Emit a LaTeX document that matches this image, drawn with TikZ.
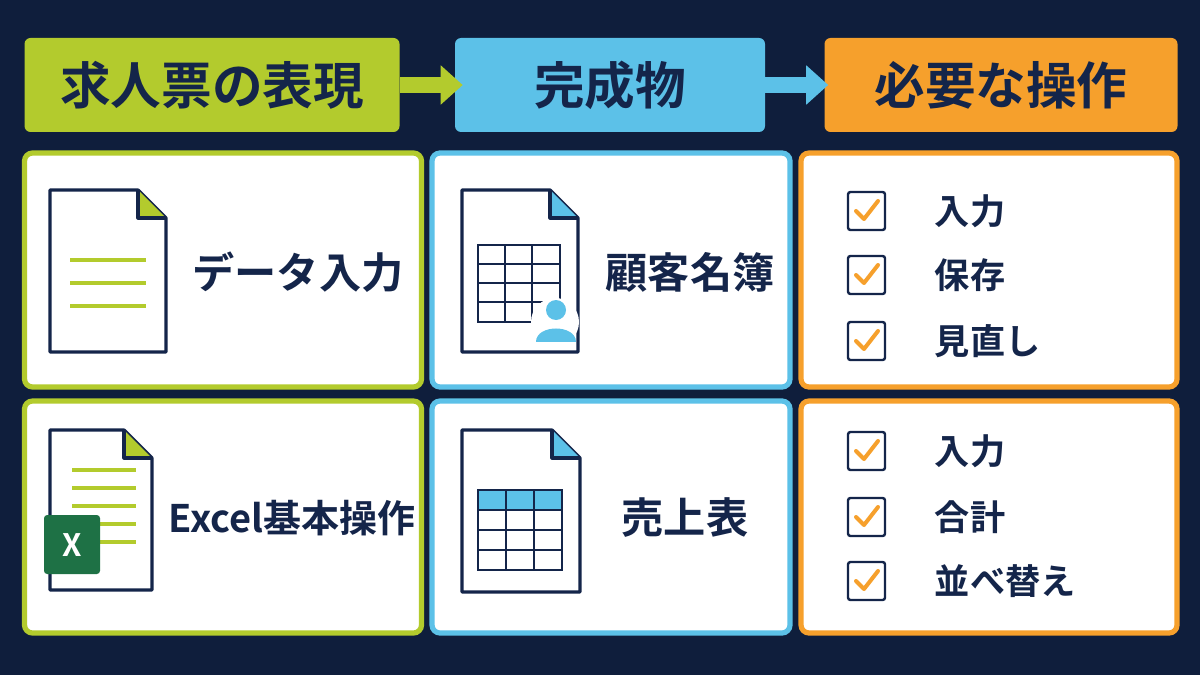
\documentclass[tikz,border=0pt]{standalone}
\usepackage{fontspec}
\setmainfont{Noto Sans CJK JP}[BoldFont={Noto Sans CJK JP Bold}]
\usetikzlibrary{arrows.meta}
\usetikzlibrary{positioning}
\definecolor{navy}{HTML}{0F1E3C}
\definecolor{ink}{HTML}{14254A}
\definecolor{lime}{HTML}{B3CB2D}
\definecolor{sky}{HTML}{5CC1E8}
\definecolor{amber}{HTML}{F6A02C}
\definecolor{xlgreen}{HTML}{1E7145}
\newcommand{\px}{0.025cm}
\tikzset{
  head/.style={fill=#1, rounded corners=0.15cm, minimum height=94*\px,
    font=\bfseries\fontsize{36}{36}\selectfont, text=ink, inner sep=0pt},
  cell/.style={draw=#1, line width=0.13cm, fill=white, rounded corners=0.2cm,
    inner sep=0pt},
  step/.style={draw=#1, line width=0.4cm, -{Triangle[length=0.55cm,width=0.95cm]}},
  label/.style={font=\bfseries\fontsize{30}{30}\selectfont, text=ink},
  item/.style={font=\bfseries\fontsize{25}{25}\selectfont, text=ink, anchor=west},
  doc/.style={draw=ink, line width=0.08cm, fill=white, line join=round},
  box/.style={draw=ink, line width=0.06cm, rounded corners=0.06cm, fill=white}
}
% one document icon: #1 left, #2 top, #3 right, #4 bottom, #5 fold colour
\newcommand{\docicon}[5]{
  \draw[doc] (#1,#2) -- (#3-28,#2) -- (#3,#2+28) -- (#3,#4) -- (#1,#4) -- cycle;
  \fill[#5] (#3-28,#2) -- (#3,#2+28) -- (#3-28,#2+28) -- cycle;
  \draw[ink, line width=0.08cm, line join=round] (#3-28,#2) -- (#3-28,#2+28) -- (#3,#2+28);
}
% one checked item: #1 centre y, #2 text
\newcommand{\checkitem}[2]{
  \draw[box] (848,#1-19) rectangle (885,#1+19);
  \draw[amber, line width=0.1cm, line cap=round, line join=round]
    (856,#1) -- (864,#1+8) -- (878,#1-10);
  \node[item] at (930,#1) {#2};
}
\begin{document}
\begin{tikzpicture}[x=\px, y=-\px]
  \fill[navy] (0,0) rectangle (1200,675);
  \useasboundingbox (0,0) rectangle (1200,675);

  %% headers
  \node[head=lime, minimum width=375*\px] (h1) at (212,85) {求人票の表現};
  \node[head=sky, minimum width=310*\px] (h2) at (610,85) {完成物};
  \node[head=amber, minimum width=353*\px] (h3) at (1001,85) {必要な操作};
  \draw[step=lime] (h1.east) -- ([xshift=8*\px]h2.west);
  \draw[step=sky] (h2.east) -- ([xshift=4*\px]h3.west);

  %% cells
  \node[cell=lime, minimum width=397*\px, minimum height=234*\px] (c11) at (223,270) {};
  \node[cell=sky, minimum width=358*\px, minimum height=234*\px] (c12) at (611,270) {};
  \node[cell=amber, minimum width=376*\px, minimum height=234*\px] (c13) at (989,270) {};
  \node[cell=lime, minimum width=397*\px, minimum height=232*\px] (c21) at (223,517) {};
  \node[cell=sky, minimum width=358*\px, minimum height=232*\px] (c22) at (611,517) {};
  \node[cell=amber, minimum width=376*\px, minimum height=232*\px] (c23) at (989,517) {};

  % data entry
  \docicon{50}{190}{166}{352}{lime}
  \foreach \y in {260,283,306}
    \draw[lime, line width=0.12cm] (70,\y) -- (146,\y);
  \node[label] (t11) at (298,272) {データ入力};

  % customer list
  \docicon{462}{190}{578}{352}{sky}
  \draw[ink, line width=0.05cm] (478,245) rectangle (560,322);
  \foreach \y in {264,283,302}
    \draw[ink, line width=0.05cm] (478,\y) -- (560,\y);
  \foreach \x in {505,532}
    \draw[ink, line width=0.05cm] (\x,245) -- (\x,322);
  \fill[white] (555,322) circle (24);
  \fill[sky] (556,310) circle (10);
  \fill[sky] (536,342) .. controls (536,324) and (576,324) .. (576,342) -- cycle;
  \node[label] (t12) at (690,272) {顧客名簿};

  % checks 1
  \checkitem{211}{入力}
  \checkitem{275}{保存}
  \checkitem{341}{見直し}

  % excel basics
  \docicon{50}{430}{152}{590}{lime}
  \foreach \y in {470,488,506,524,542}
    \draw[lime, line width=0.1cm] (72,\y) -- (136,\y);
  \fill[xlgreen, rounded corners=0.08cm] (44,515) rectangle (100,574);
  \node[font=\bfseries\fontsize{22}{22}\selectfont, text=white] (xl) at (72,545) {X};
  \node[label, font=\bfseries\fontsize{27}{27}\selectfont] (t21) at (292,518) {Excel基本操作};

  % sales table
  \docicon{462}{430}{580}{592}{sky}
  \fill[sky] (478,490) rectangle (562,510);
  \draw[ink, line width=0.05cm] (478,490) rectangle (562,570);
  \foreach \y in {510,530,550}
    \draw[ink, line width=0.05cm] (478,\y) -- (562,\y);
  \foreach \x in {506,534}
    \draw[ink, line width=0.05cm] (\x,490) -- (\x,570);
  \node[label] (t22) at (685,518) {売上表};

  % checks 2
  \checkitem{451}{入力}
  \checkitem{517}{合計}
  \checkitem{581}{並べ替え}
\end{tikzpicture}
\end{document}
